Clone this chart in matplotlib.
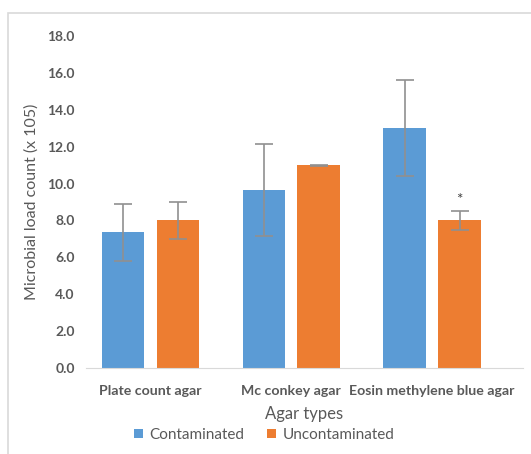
import numpy as np
import matplotlib.pyplot as plt
from matplotlib.patches import Rectangle

plt.rcParams['font.family'] = ['Lato', 'DejaVu Sans']

agar_types = ["Plate count agar", "Mc conkey agar", "Eosin methylene blue agar"]
contaminated = [7.35, 9.67, 13.0]
contaminated_err = [1.53, 2.5, 2.6]
uncontaminated = [8.0, 11.0, 8.0]
uncontaminated_err = [1.0, 0.03, 0.5]
signif = ["", "", "*"]

blue = "#5B9BD5"
orange = "#ED7D31"
grey_txt = "#595959"

fig = plt.figure(figsize=(5.31, 4.54), dpi=100)
ax = fig.add_axes([86/531, 86/454, 437/531, 332/454])

x = np.arange(len(agar_types))
w = 0.302
off = 0.195

ax.bar(x - off, contaminated, w, color=blue, label="Contaminated", zorder=2)
ax.bar(x + off, uncontaminated, w, color=orange, label="Uncontaminated", zorder=2)
ax.errorbar(x - off, contaminated, yerr=contaminated_err, fmt='none',
            ecolor="#909090", elinewidth=1.2, capsize=6.5, capthick=1.2, zorder=3)
ax.errorbar(x + off, uncontaminated, yerr=uncontaminated_err, fmt='none',
            ecolor="#909090", elinewidth=1.2, capsize=6.5, capthick=1.2, zorder=3)

for i, s in enumerate(signif):
    if s:
        ax.text(x[i] + off, uncontaminated[i] + uncontaminated_err[i] + 0.6, s,
                ha='center', va='center', fontsize=11, color="#404040")

ax.set_xlim(-0.458, 2.646)
ax.set_ylim(0, 18)
ax.set_yticks(np.arange(0, 18.1, 2))
ax.set_yticklabels(["%.1f" % v for v in np.arange(0, 18.1, 2)])
ax.set_xticks(x)
ax.set_xticklabels(agar_types)

for s in ['top', 'right', 'left']:
    ax.spines[s].set_visible(False)
ax.spines['bottom'].set_color("#d9d9d9")
ax.tick_params(axis='y', length=0, colors=grey_txt, labelsize=10, pad=8)
ax.tick_params(axis='x', length=0, colors=grey_txt, labelsize=10.2, pad=12)
for lab in ax.get_xticklabels() + ax.get_yticklabels():
    lab.set_fontweight('bold')

ax.set_ylabel("Microbial load count (x 105)", color=grey_txt, fontsize=11.5, labelpad=6)
ax.set_xlabel("Agar types", color=grey_txt, fontsize=12, labelpad=7)

fig.legend(loc='center', bbox_to_anchor=(264/531, 1 - 435/454), ncol=2, frameon=False,
           fontsize=11, handlelength=0.6, handleheight=0.6, handletextpad=0.4,
           columnspacing=1.5, labelcolor=grey_txt)

# chart area border
fig.patches.append(Rectangle((8/531, -0.1), 1.2, 1 - 13/454 + 0.1, transform=fig.transFigure,
                             fill=False, edgecolor="#d9d9d9", linewidth=1.2))

fig.savefig("out.png", dpi=100)
